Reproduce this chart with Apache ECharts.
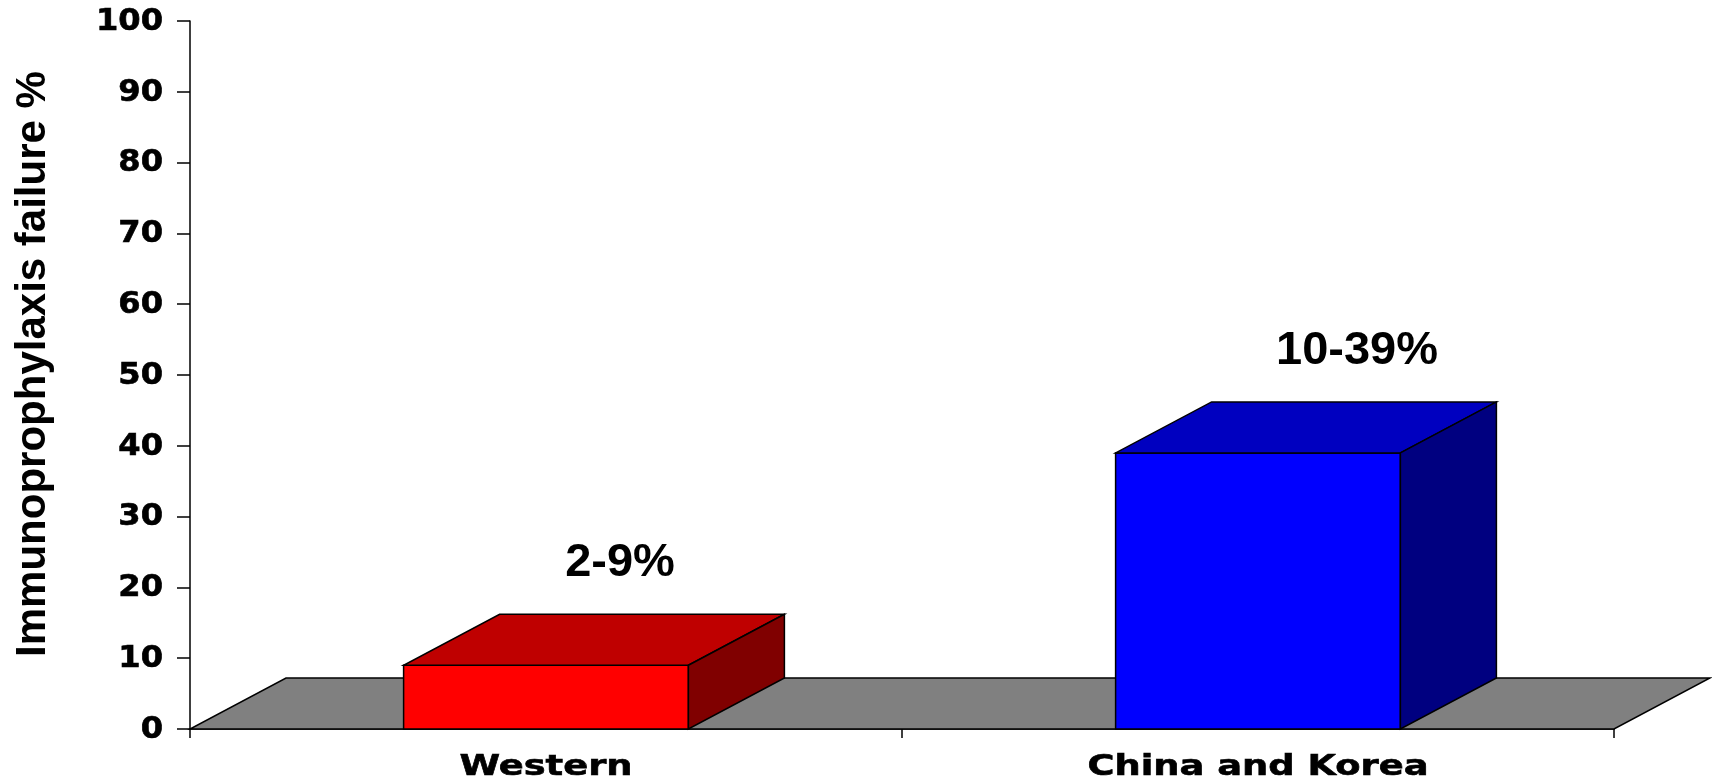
<!DOCTYPE html>
<html>
<head>
<meta charset="utf-8">
<title>Immunoprophylaxis failure</title>
<script src="https://cdn.jsdelivr.net/npm/echarts@6/dist/echarts.min.js"></script>
<style>
  html, body { margin: 0; padding: 0; background: #ffffff; }
  #chart { width: 1712px; height: 781px; }
</style>
</head>
<body>
<div id="chart"></div>
<script>
// Regions and the upper bound of each failure-rate range (%)
const categories = ['Western', 'China and Korea'];
const failureTop = [9, 39];
const rangeLabels = ['2-9%', '10-39%'];

// Value axis ticks
const yTickValues = [0, 10, 20, 30, 40, 50, 60, 70, 80, 90, 100];
const yTickLabels = ['0', '10', '20', '30', '40', '50', '60', '70', '80', '90', '100'];

const axisTitle = 'Immunoprophylaxis failure %';

// Look of the pseudo-3D boxes
const DEPTH_X = 96;
const DEPTH_Y = -51;
const BAR_RATIO = 0.4;
const faceColors = [
  { front: '#ff0000', top: '#bf0000', side: '#800000' },
  { front: '#0000ff', top: '#0000c0', side: '#000080' }
];
const labelNudgeX = [74, 99];
const EDGE = { stroke: '#000000', lineWidth: 1.5, lineJoin: 'miter' };
const WIDE_FONT = '"DejaVu Sans", "Liberation Sans", sans-serif';
const LABEL_FONT = '"Liberation Sans", Arial, sans-serif';

const chart = echarts.init(document.getElementById('chart'), null, { renderer: 'canvas' });

function poly(points, fill) {
  return { type: 'polygon', shape: { points: points }, style: Object.assign({ fill: fill }, EDGE) };
}

// wide, heavy text used for the axis labels
function wideText(x, y, text, size, scaleX, align) {
  return {
    type: 'text',
    x: x,
    y: y,
    scaleX: scaleX,
    style: {
      text: text,
      x: 0, y: 0,
      fill: '#000',
      stroke: '#000',
      lineWidth: 0.6,
      font: 'bold ' + size + 'px ' + WIDE_FONT,
      align: align,
      verticalAlign: 'middle'
    }
  };
}

const option = {
  animation: false,
  backgroundColor: '#ffffff',
  grid: {
    left: 190, right: 98, top: 21, bottom: 52,
    containLabel: false,
    outerBoundsMode: 'none'
  },
  xAxis: {
    type: 'category',
    data: categories,
    boundaryGap: true,
    axisLine: { show: true, lineStyle: { color: '#000', width: 1.5 } },
    axisTick: { show: true, length: 9, lineStyle: { color: '#000', width: 1.5 } },
    axisLabel: { show: false },
    splitLine: { show: false }
  },
  yAxis: {
    type: 'value',
    min: 0,
    max: 100,
    interval: 10,
    name: axisTitle,
    nameLocation: 'middle',
    nameRotate: 90,
    nameGap: 136,
    nameTextStyle: {
      fontFamily: LABEL_FONT,
      fontWeight: 'bold',
      fontSize: 42,
      color: '#000',
      padding: [0, 0, 0, 22]
    },
    axisLine: { show: true, lineStyle: { color: '#000', width: 1.5 } },
    axisTick: { show: true, length: 13, lineStyle: { color: '#000', width: 1.5 } },
    axisLabel: { show: false },
    splitLine: { show: false }
  },
  series: [
    {
      // grey floor under the boxes
      name: 'floor',
      type: 'custom',
      silent: true,
      clip: false,
      z: 2,
      data: [[0, 0]],
      renderItem: function (params, api) {
        const cs = params.coordSys;
        const y0 = api.coord([0, 0])[1];
        const xl = cs.x, xr = cs.x + cs.width;
        return poly([
          [xl, y0], [xr, y0], [xr + DEPTH_X, y0 + DEPTH_Y], [xl + DEPTH_X, y0 + DEPTH_Y]
        ], '#808080');
      }
    },
    {
      // boxes with front, top and side faces plus the range label
      name: 'failure',
      type: 'custom',
      silent: true,
      clip: false,
      z: 3,
      data: failureTop.map(function (v, i) { return [i, v]; }),
      renderItem: function (params, api) {
        const i = api.value(0);
        const v = api.value(1);
        const top = api.coord([i, v]);
        const base = api.coord([i, 0]);
        const bw = api.size([1, 0])[0] * BAR_RATIO;
        const x0 = top[0] - bw / 2, x1 = top[0] + bw / 2;
        const yt = top[1], yb = base[1];
        const c = faceColors[i];
        return {
          type: 'group',
          children: [
            poly([[x0, yt], [x1, yt], [x1, yb], [x0, yb]], c.front),
            poly([[x0, yt], [x1, yt], [x1 + DEPTH_X, yt + DEPTH_Y], [x0 + DEPTH_X, yt + DEPTH_Y]], c.top),
            poly([[x1, yt], [x1 + DEPTH_X, yt + DEPTH_Y], [x1 + DEPTH_X, yb + DEPTH_Y], [x1, yb]], c.side),
            {
              type: 'text',
              x: top[0] + labelNudgeX[i],
              y: yt + DEPTH_Y - 51,
              style: {
                text: rangeLabels[i],
                x: 0, y: 0,
                fill: '#000',
                font: 'bold 47px ' + LABEL_FONT,
                align: 'center',
                verticalAlign: 'middle'
              }
            }
          ]
        };
      }
    },
    {
      // value-axis tick labels
      name: 'yTickLabels',
      type: 'custom',
      silent: true,
      clip: false,
      z: 4,
      data: yTickValues.map(function (v, i) { return [0, v, i]; }),
      renderItem: function (params, api) {
        const p = api.coord([0, api.value(1)]);
        return wideText(params.coordSys.x - 27, p[1] + 1, yTickLabels[api.value(2)], 30, 1.07, 'right');
      }
    },
    {
      // category labels under the floor
      name: 'categoryLabels',
      type: 'custom',
      silent: true,
      clip: false,
      z: 4,
      data: categories.map(function (c, i) { return [i, 0]; }),
      renderItem: function (params, api) {
        const i = api.value(0);
        const p = api.coord([i, 0]);
        return wideText(p[0], params.coordSys.y + params.coordSys.height + 38, categories[i], 29, 1.27, 'center');
      }
    }
  ]
};

chart.setOption(option);
</script>
</body>
</html>
